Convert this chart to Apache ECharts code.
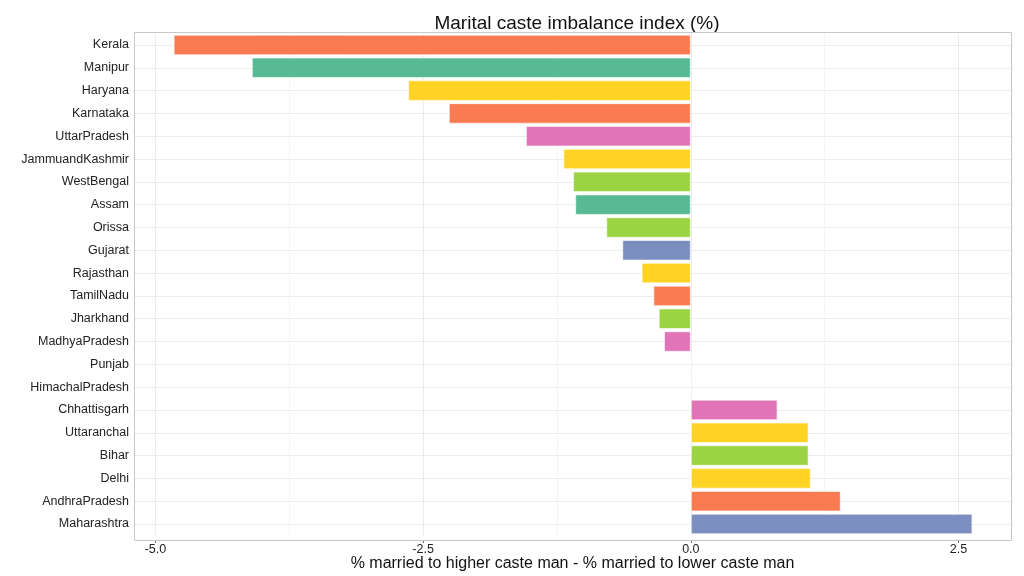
<!DOCTYPE html>
<html><head><meta charset="utf-8">
<script src="https://cdn.jsdelivr.net/npm/echarts@6/dist/echarts.min.js"></script>
<style>html,body{margin:0;padding:0;background:#fff}#c{width:1024px;height:576px}</style>
</head><body><div id="c"></div>
<script>
const states = ["Kerala","Manipur","Haryana","Karnataka","UttarPradesh","JammuandKashmir","WestBengal","Assam","Orissa","Gujarat","Rajasthan","TamilNadu","Jharkhand","MadhyaPradesh","Punjab","HimachalPradesh","Chhattisgarh","Uttaranchal","Bihar","Delhi","AndhraPradesh","Maharashtra"];
const values = [-4.83,-4.10,-2.64,-2.26,-1.54,-1.19,-1.10,-1.08,-0.79,-0.64,-0.46,-0.35,-0.30,-0.25,0,0,0.81,1.10,1.10,1.12,1.40,2.63];
const groups = ["o","t","y","o","p","y","l","t","l","b","y","o","l","p","y","y","p","y","l","y","o","b"];
const palette = {o:"#FA7A52", t:"#57BA94", y:"#FFD324", p:"#E074B6", l:"#9AD443", b:"#7B8EC0"};
const xTicks = [-5, -2.5, 0, 2.5];
const xMinor = [-3.75, -1.25, 1.25];

const chart = echarts.init(document.getElementById('c'));
const font = "Liberation Sans, Arial, sans-serif";
chart.setOption({
  animation:false,
  title:{text:"Marital caste imbalance index (%)", left:572, top:9, textAlign:'center',
    textStyle:{fontFamily:font, fontSize:19, fontWeight:'normal', color:'#111'}},
  graphic:[{type:'rect', shape:{x:134.5, y:32.5, width:877, height:508}, z:10, silent:true,
    style:{fill:null, stroke:'#c8c8c8', lineWidth:1}}],
  grid:{left:134, right:13, top:33.6, bottom:40.6, outerBoundsMode:'none', show:false},
  xAxis:{type:'value', min:-5.2, max:2.99, offset:4.6,
    name:"% married to higher caste man - % married to lower caste man", nameLocation:'middle', nameGap:16,
    nameMoveOverlap:false,
    nameTextStyle:{fontFamily:font, fontSize:16, color:'#111'},
    axisLine:{show:false},
    axisTick:{show:true, customValues:xTicks, length:3, lineStyle:{color:'#777'}},
    axisLabel:{customValues:xTicks, fontFamily:font, fontSize:12.5, color:'#222', margin:3,
      formatter:v=>v.toFixed(1)},
    splitLine:{show:false}},
  yAxis:{type:'category', data:states, inverse:true,
    axisLine:{show:false},
    axisTick:{show:true, alignWithLabel:true, length:3, lineStyle:{color:'#777'}},
    axisLabel:{fontFamily:font, fontSize:12.5, color:'#222', margin:5},
    splitLine:{show:false}},
  series:[{
    type:'bar', barWidth:'90%',
    data: values.map((v,i)=>({value:v, itemStyle:{color:palette[groups[i]]}})),
    itemStyle:{borderColor:'rgba(255,255,255,0.6)', borderWidth:1},
    z:3,
    markLine:{silent:true, symbol:'none', label:{show:false}, z:1,
      data:[
        ...xTicks.map(x=>({xAxis:x, lineStyle:{color:'#ececec', width:1, type:'solid'}})),
        ...xMinor.map(x=>({xAxis:x, lineStyle:{color:'#f5f5f5', width:1, type:'solid'}})),
        ...states.map(s=>({yAxis:s, lineStyle:{color:'#ececec', width:1, type:'solid'}}))
      ]}
  }]
});
</script></body></html>
